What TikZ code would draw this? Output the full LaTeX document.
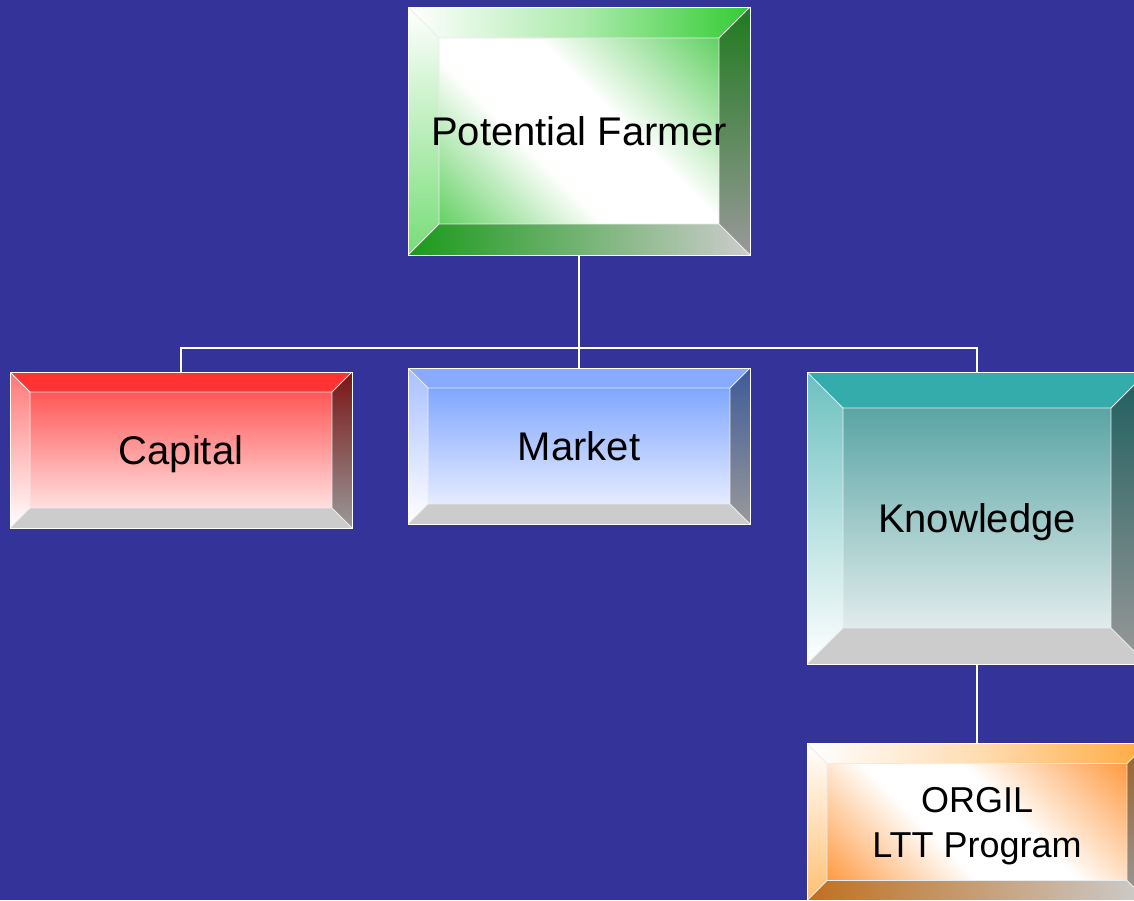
\documentclass[tikz,border=0pt]{standalone}
\usepackage{fontspec}
\setmainfont{Liberation Sans}
\usetikzlibrary{calc}

\definecolor{slide}{HTML}{333399}
\definecolor{bevgray}{HTML}{999999}
\definecolor{bevlight}{HTML}{CCCCCC}
\definecolor{grnface}{HTML}{55CC55}
\definecolor{grntop}{HTML}{33CC33}
\definecolor{grnleft}{HTML}{77DD77}
\definecolor{grnright}{HTML}{1F7A1F}
\definecolor{grnbot}{HTML}{1A9A1A}
\definecolor{redface}{HTML}{FF4040}
\definecolor{redtop}{HTML}{FF3333}
\definecolor{redleft}{HTML}{FF7777}
\definecolor{redright}{HTML}{7A1515}
\definecolor{bluface}{HTML}{6E9BFF}
\definecolor{blutop}{HTML}{88AAFF}
\definecolor{bluleft}{HTML}{A8C0FF}
\definecolor{bluright}{HTML}{3D5A99}
\definecolor{tealface}{HTML}{449999}
\definecolor{tealtop}{HTML}{35ACAC}
\definecolor{tealleft}{HTML}{6CC0C0}
\definecolor{tealright}{HTML}{1E5E5E}
\definecolor{orface}{HTML}{FF9940}
\definecolor{ortop}{HTML}{FFAA40}
\definecolor{orleft}{HTML}{FFC070}
\definecolor{orright}{HTML}{A06020}
\definecolor{orbot}{HTML}{C07020}

% white glow across the diagonal
\pgfdeclareverticalshading{glowgreen}{100bp}{color(0bp)=(grnface); color(20bp)=(grnface);
  color(42bp)=(white); color(56bp)=(white); color(80bp)=(grnface); color(100bp)=(grnface)}
\pgfdeclareverticalshading{gloworange}{100bp}{color(0bp)=(orface); color(20bp)=(orface);
  color(42bp)=(white); color(56bp)=(white); color(80bp)=(orface); color(100bp)=(orface)}

\tikzstyle{block} = [rectangle, draw=white, line width=0.8pt, inner sep=0pt, align=center, font=\fontsize{40}{48}\selectfont]
\tikzstyle{caps} = [text height=29pt, text depth=0pt]
\tikzstyle{link} = [draw=white, line width=2pt]
\tikzstyle{rim} = [draw=white!85!gray, line width=0.8pt]

\tikzset{
  bevel/.style n args={5}{path picture={
    \coordinate (o1) at (path picture bounding box.north west);
    \coordinate (o2) at (path picture bounding box.north east);
    \coordinate (o3) at (path picture bounding box.south east);
    \coordinate (o4) at (path picture bounding box.south west);
    \coordinate (i1) at ($(o1)+(#1pt,-#1pt)$);
    \coordinate (i2) at ($(o2)+(-#1pt,-#1pt)$);
    \coordinate (i3) at ($(o3)+(-#1pt,#1pt)$);
    \coordinate (i4) at ($(o4)+(#1pt,#1pt)$);
    \path[#2] (o1) -- (o2) -- (i2) -- (i1) -- cycle;
    \path[#4] (o2) -- (o3) -- (i3) -- (i2) -- cycle;
    \path[#5] (o3) -- (o4) -- (i4) -- (i3) -- cycle;
    \path[#3] (o4) -- (o1) -- (i1) -- (i4) -- cycle;
    \draw[rim] (i1) rectangle (i3) (o1) -- (i1) (o2) -- (i2) (o3) -- (i3) (o4) -- (i4);
  }}
}

\begin{document}
\begin{tikzpicture}[x=1pt, y=-1pt]
    \useasboundingbox (0,0) rectangle (1134,900);
    \fill[slide] (0,0) rectangle (1134,900);
    \clip (0,0) rectangle (1134,900);

    % top of the chart
    \node (pf) at (579,131) [block, caps, minimum width=342pt, minimum height=248pt,
        shade, shading=glowgreen, shading angle=-45,
        bevel={31}{left color=white, right color=grntop, middle color=white!60!grntop}{top color=white, bottom color=grnleft}
              {top color=grnright, bottom color=bevgray}{left color=grnbot, right color=bevlight}]
        {Potential Farmer};

    % second row
    \node (cap) at (181,450) [block, caps, minimum width=342pt, minimum height=156pt,
        top color=redface, bottom color=red!3,
        bevel={20}{fill=redtop}{top color=redleft, bottom color=white}
              {top color=redright, bottom color=bevgray}{fill=bevlight}]
        {Capital};
    \node (mkt) at (579,446) [block, caps, minimum width=342pt, minimum height=156pt,
        top color=bluface, bottom color=blue!3,
        bevel={20}{fill=blutop}{top color=bluleft, bottom color=white}
              {top color=bluright, bottom color=bevgray}{fill=bevlight}]
        {Market};
    \node (know) at (977,518) [block, caps, minimum width=340pt, minimum height=292pt,
        top color=tealface, bottom color=black!3,
        bevel={36}{fill=tealtop}{top color=tealleft, bottom color=white}
              {top color=tealright, bottom color=bevgray}{fill=bevlight}]
        {Knowledge};

    % bottom
    \node (orgil) at (977,822) [block, text depth=0pt, minimum width=340pt, minimum height=157pt,
        font=\fontsize{36}{45}\selectfont,
        shade, shading=gloworange, shading angle=-45,
        bevel={20}{left color=white, right color=ortop, middle color=white!60!ortop}{top color=white, bottom color=orleft}
              {top color=orright, bottom color=bevgray}{left color=orbot, right color=bevlight}]
        {ORGIL\\LTT Program};

    \coordinate (fork) at (579,348);
    \draw[link] (pf.south) -- (fork);
    \draw[link] (cap.north) |- (fork) -| (know.north);
    \draw[link] (fork) -- (mkt.north);
    \draw[link] (know.south) -- (orgil.north);
\end{tikzpicture}
\end{document}
